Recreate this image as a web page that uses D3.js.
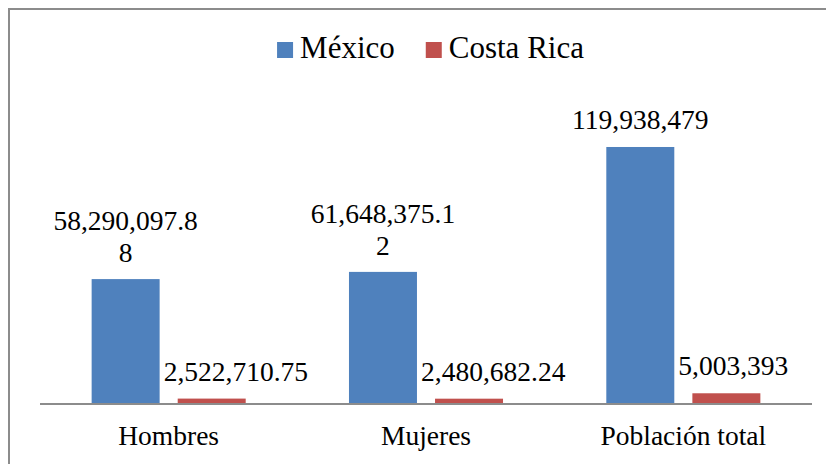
<!DOCTYPE html>
<html>
<head>
<meta charset="utf-8">
<script src="https://cdn.jsdelivr.net/npm/d3@7"></script>
<style>
  html, body { margin: 0; padding: 0; background: #fff; }
  svg { display: block; }
</style>
</head>
<body>
<svg id="chart" width="826" height="464"></svg>
<script>
const categories = ["Hombres", "Mujeres", "Población total"];
const seriesNames = ["México", "Costa Rica"];
const mexico = [58290097.88, 61648375.12, 119938479];
const costaRica = [2522710.75, 2480682.24, 5003393];
const seriesValues = [mexico, costaRica];
const colors = ["#4F81BD", "#C0504D"];
const yMax = 140000000;

const FONT = "'Liberation Serif', 'Times New Roman', Tinos, serif";

const svg = d3.select("#chart");

// chart border (clipped at right/bottom as in the reference)
svg.append("rect")
  .attr("x", 9).attr("y", 9).attr("width", 830).attr("height", 470)
  .attr("fill", "#fff").attr("stroke", "#8c8c8c").attr("stroke-width", 2);

const plot = { left: 40, right: 812, top: 104, bottom: 404 };

const x = d3.scaleBand().domain(categories).range([plot.left, plot.right]).paddingInner(0).paddingOuter(0);
const xs = d3.scaleBand().domain(seriesNames).range([0, x.bandwidth()]).paddingInner(0.21).paddingOuter(0.6);
const y = d3.scaleLinear().domain([0, yMax]).range([plot.bottom, plot.top]);

const data = [];
categories.forEach((c, i) => {
  seriesNames.forEach((s, j) => {
    data.push({ cat: c, series: s, si: j, value: seriesValues[j][i], color: colors[j] });
  });
});

// bars
svg.append("g").selectAll("rect").data(data).join("rect")
  .attr("x", d => x(d.cat) + xs(d.series))
  .attr("width", xs.bandwidth())
  .attr("y", d => y(d.value))
  .attr("height", d => y(0) - y(d.value))
  .attr("fill", d => d.color);

// axis line + category labels
const xAxis = d3.axisBottom(x).tickSize(0).tickPadding(22);
const gx = svg.append("g").attr("transform", `translate(0,${plot.bottom})`).call(xAxis);
gx.attr("font-family", FONT).attr("font-size", 27.5);
gx.select(".domain").attr("stroke", "#8c8c8c").attr("stroke-width", 2).attr("d", `M${plot.left},0H${plot.right}`);
gx.selectAll(".tick text")
  .attr("font-family", FONT)
  .attr("font-size", 27.5).attr("fill", "#000")
  .attr("dy", null).attr("y", 41);

// data labels (wrapped like the original)
const fmt = d3.format(",");
const labelSize = 27.5, lineH = 32, maxW = 150;
const lg = svg.append("g");
data.forEach(d => {
  const bx = x(d.cat) + xs(d.series);
  const centered = d.si === 0;
  const lx = centered ? bx + xs.bandwidth() / 2 : bx - 14;
  const top = y(d.value);
  const str = fmt(d.value);
  const t = lg.append("text").attr("text-anchor", centered ? "middle" : "start")
    .attr("font-family", FONT).attr("font-size", labelSize).attr("fill", "#000");
  const lines = [];
  let cur = "";
  for (const ch of str) {
    t.text(cur + ch);
    if (t.node().getComputedTextLength() > maxW && cur.length) {
      lines.push(cur);
      cur = ch;
    } else {
      cur += ch;
    }
  }
  lines.push(cur);
  t.text(null);
  const lastBase = top - (lines.length > 1 ? 17 : 18);
  lines.forEach((ln, k) => {
    t.append("tspan").attr("x", lx)
      .attr("y", lastBase - (lines.length - 1 - k) * lineH)
      .text(ln);
  });
});

// legend
const legend = svg.append("g");
const legSize = 31, sq = 16, gapSqText = 7, gapItems = 31;
let px = 0;
seriesNames.forEach((s, i) => {
  const g = legend.append("g");
  g.append("rect").attr("x", 0).attr("y", -sq).attr("width", sq).attr("height", sq).attr("fill", colors[i]);
  const tt = g.append("text").attr("x", sq + gapSqText).attr("y", 0)
    .attr("font-family", FONT).attr("font-size", legSize).attr("fill", "#000").text(s);
  const w = sq + gapSqText + tt.node().getComputedTextLength();
  g.attr("transform", `translate(${px},0)`);
  px += w + gapItems;
});
const totalW = px - gapItems;
legend.attr("transform", `translate(${430.5 - totalW / 2},58)`);
</script>
</body>
</html>
